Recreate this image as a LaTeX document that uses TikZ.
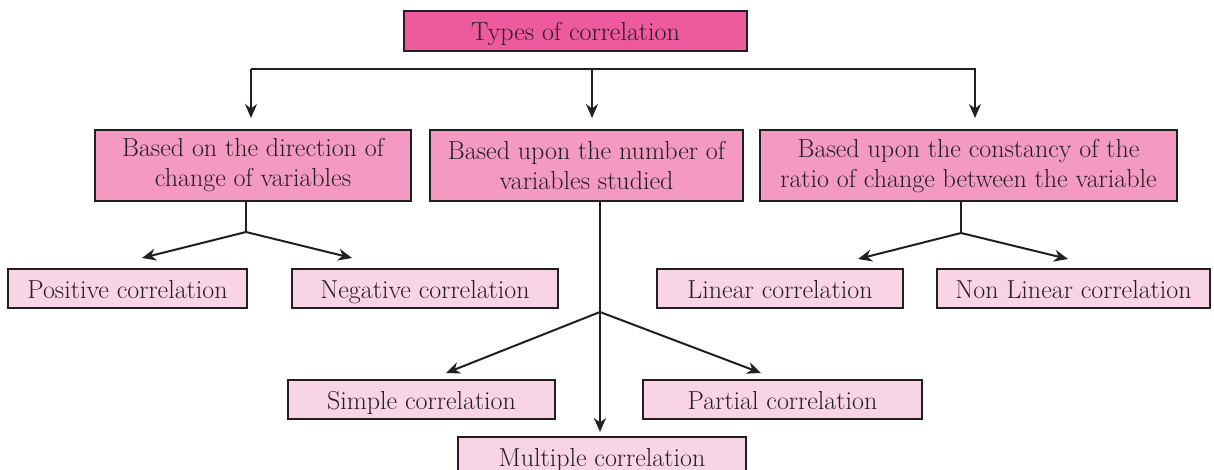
\documentclass[tikz,border=0pt]{standalone}
\usepackage{fontspec}
\setmainfont{Latin Modern Roman}
\usetikzlibrary{arrows.meta}
\definecolor{topfill}{HTML}{EE5A9E}
\definecolor{midfill}{HTML}{F49AC2}
\definecolor{leaffill}{HTML}{F9D3E6}
\definecolor{edge}{HTML}{231F20}
\tikzset{
  box/.style={draw=edge, line width=2pt, rectangle, inner sep=0pt, align=center,
              font=\fontsize{26}{30}\selectfont, text=edge},
  topbox/.style={box, fill=topfill, text height=24pt, text depth=5pt},
  midbox/.style={box, fill=midfill},
  leafbox/.style={box, fill=leaffill, text height=24pt, text depth=5pt},
  conn/.style={draw=edge, line width=2pt},
  arr/.style={conn, -{Stealth[length=14pt,width=12pt]}}
}
\begin{document}
\begin{tikzpicture}[x=1pt,y=-1pt]
\clip (0,0) rectangle (1214,470);
\fill[white] (0,0) rectangle (1214,470);
% nodes
\node[topbox, minimum width=343pt, minimum height=40pt] (top) at (575.5,31) {Types of correlation};
\node[midbox, minimum width=316pt, minimum height=71pt] (dir) at (253,165.5) {Based on the direction of\\change of variables};
\node[midbox, minimum width=313pt, minimum height=71pt] (num) at (586.5,165.5) {Based upon the number of\\variables studied};
\node[midbox, minimum width=417pt, minimum height=71pt] (con) at (968.5,166) {Based upon the constancy of the\\ratio of change between the variable};
\node[leafbox, minimum width=239pt, minimum height=39pt] (pos) at (127.5,288.5) {Positive correlation};
\node[leafbox, minimum width=266pt, minimum height=39pt] (neg) at (425,288.5) {Negative correlation};
\node[leafbox, minimum width=246pt, minimum height=39pt] (lin) at (780,288.5) {Linear correlation};
\node[leafbox, minimum width=273pt, minimum height=39pt] (nlin) at (1073.5,288.5) {Non Linear correlation};
\node[leafbox, minimum width=267pt, minimum height=39pt] (sim) at (421.5,399.5) {Simple correlation};
\node[leafbox, minimum width=279pt, minimum height=39pt] (par) at (782.5,399.5) {Partial correlation};
\node[leafbox, minimum width=288pt, minimum height=39pt] (mul) at (602,456.5) {Multiple correlation};
% coordinates
\coordinate (hl) at (251,69);
\coordinate (hm) at (592,69);
\coordinate (hr) at (975,69);
\coordinate (ta) at (251,118);
\coordinate (tb) at (592,118);
\coordinate (tc) at (975,118);
\coordinate (jd) at (246,232);
\coordinate (jc) at (961,233);
\coordinate (jn) at (600,312);
\coordinate (epos) at (142,258);
\coordinate (eneg) at (352,258);
\coordinate (elin) at (858,259);
\coordinate (enlin) at (1068,259);
\coordinate (esim) at (446,373);
\coordinate (epar) at (761,373);
\coordinate (emul) at (600,432);
% connectors
\draw[arr] (hl) -- (hr) -- (tc);
\draw[arr] (hl) -- (ta);
\draw[arr] (hm) -- (tb);
\draw[conn] (jd |- dir.south) -- (jd);
\draw[arr] (jd) -- (epos);
\draw[arr] (jd) -- (eneg);
\draw[conn] (jc |- con.south) -- (jc);
\draw[arr] (jc) -- (elin);
\draw[arr] (jc) -- (enlin);
\draw[conn] (jn |- num.south) -- (jn);
\draw[arr] (jn) -- (esim);
\draw[arr] (jn) -- (epar);
\draw[arr] (jn) -- (emul);
\end{tikzpicture}
\end{document}
